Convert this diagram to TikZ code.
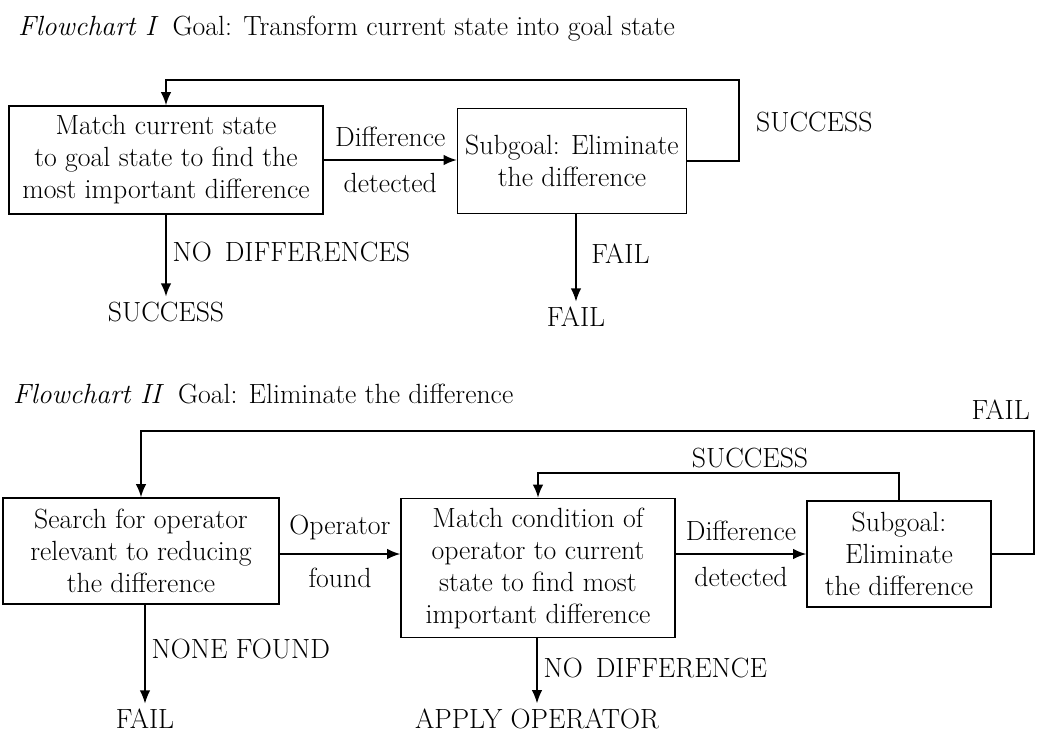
\documentclass[tikz,border=0pt]{standalone}
\usetikzlibrary{arrows.meta}

\begin{document}
\begin{tikzpicture}[
        x=0.02cm, y=-0.02cm,
        >={Latex[length=7.5pt,width=6pt]},
        every node/.style={font=\fontsize{15.8}{18.2}\selectfont},
        boxnode/.style={draw, line width=0.9pt, align=center, inner sep=0pt},
        endnode/.style={inner sep=3pt},
        flow/.style={->, line width=0.85pt},
        ]
        \useasboundingbox (0,0) rectangle (1038,735);

        % Flowchart I
        \node[anchor=base west] (title1) at (12,35) {\textit{Flowchart I}\enspace Goal: Transform current state into goal state};

        \node[boxnode, minimum width=6.28cm, minimum height=2.16cm] (match1) at (166,160) {Match current state\\to goal state to find the\\most important difference};
        \node[boxnode, minimum width=4.58cm, minimum height=2.1cm] (sub1) at (572,161) {Subgoal: Eliminate\\the difference};

        \node[endnode] (succ1) at (166,312) {SUCCESS};
        \node[endnode] (fail1) at (576,317) {FAIL};

        \coordinate (loop1) at (739,80);

        \draw[flow] (match1.east) -- (match1.east -| sub1.west)
            node[midway, above=4pt] {Difference}
            node[midway, below=4pt] {detected};
        \draw[flow] (sub1.east) -| (loop1) -| (match1.north);
        \node[anchor=west] (lsucc1) at (750,122) {SUCCESS};
        \draw[flow] (match1.south) -- (succ1.north)
            node[pos=0.45, right] {NO\, DIFFERENCES};
        \draw[flow] (sub1.south -| fail1) -- (fail1.north)
            node[pos=0.45, right=5pt] {FAIL};

        % Flowchart II
        \node[anchor=base west] (title2) at (7,403) {\textit{Flowchart II}\enspace Goal: Eliminate the difference};

        \node[boxnode, minimum width=5.52cm, minimum height=2.12cm] (search2) at (141,551) {Search for operator\\relevant to reducing\\the difference};
        \node[boxnode, minimum width=5.48cm, minimum height=2.78cm] (match2) at (538,568) {Match condition of\\operator to current\\state to find most\\important difference};
        \node[boxnode, minimum width=3.68cm, minimum height=2.12cm] (sub2) at (899,554) {Subgoal:\\Eliminate\\the difference};

        \node[endnode] (fail2) at (145,719) {FAIL};
        \node[endnode] (apply2) at (537,719) {APPLY OPERATOR};

        \coordinate (loop2) at (1034,431);
        \coordinate (loop3) at (899,473);

        \draw[flow] (search2.east |- sub2.west) -- (match2.west |- sub2.west)
            node[midway, above=4pt] {Operator}
            node[midway, below=4pt] {found};
        \draw[flow] (match2.east |- sub2.west) -- (sub2.west)
            node[midway, above=4pt] {Difference}
            node[midway, below=4pt] {detected};
        \draw[flow] (sub2.east) -| (loop2) -| (search2.north);
        \node[anchor=south east] (lfail2) at (1036,426) {FAIL};
        \draw[flow] (sub2.north) -- (loop3) -| (match2.north);
        \node (lsucc2) at (750,458) {SUCCESS};
        \draw[flow] (search2.south -| fail2) -- (fail2.north)
            node[pos=0.45, right] {NONE FOUND};
        \draw[flow] (match2.south -| apply2) -- (apply2.north)
            node[pos=0.45, right] {NO\, DIFFERENCE};

\end{tikzpicture}
\end{document}
